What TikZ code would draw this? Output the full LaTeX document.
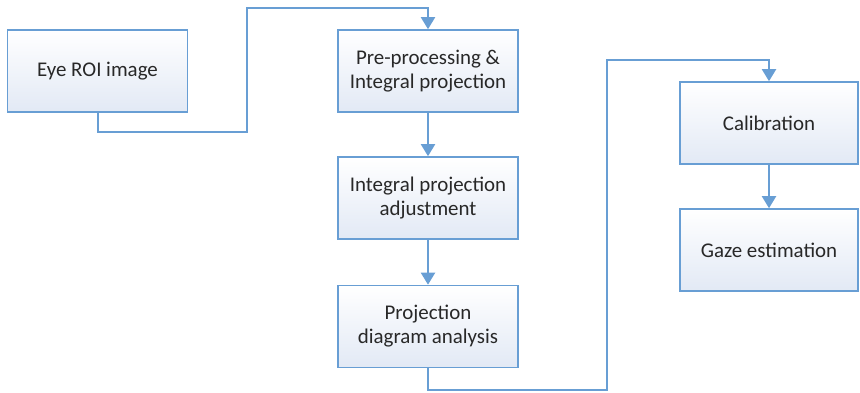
\documentclass[tikz,border=0pt]{standalone}
\usepackage{fontspec}
\setmainfont{Carlito}
\usetikzlibrary{arrows.meta,positioning}
\definecolor{ln}{RGB}{104,158,212}
\definecolor{bx}{RGB}{226,233,245}
\definecolor{tx}{RGB}{40,40,40}

\begin{document}
\begin{tikzpicture}[x=1bp,y=-1bp,
    blk/.style={rectangle,draw=ln,line width=1.6bp,minimum width=180bp,minimum height=82bp,inner sep=0pt,align=center,text=tx,font=\fontsize{21}{24}\selectfont,shading angle=135,top color=white,bottom color=bx},
    arr/.style={-{Triangle[length=12bp,width=14bp]},line width=2bp,ln},
]
\useasboundingbox (0,0) rectangle (860,392);

% Left column
\node[blk] (eye) at (97.5,71) {Eye ROI image};

% Middle column
\node[blk] (pre) at (428,71) {Pre-processing \&\\Integral projection};
\node[blk] (adj) at (428,198) {Integral projection\\adjustment};
\node[blk] (ana) at (428,326.5) {Projection\\diagram analysis};

% Right column
\node[blk,minimum width=178bp] (cal) at (769,123) {Calibration};
\node[blk,minimum width=178bp] (gaze) at (769,250) {Gaze estimation};

% Bends
\coordinate (b1) at (247,132);
\coordinate (b2) at (247,8);
\coordinate (b3) at (607,390);
\coordinate (b4) at (607,60);

% Connections
\draw[arr] (eye.south) |- (b1) -- (b2) -| (pre.north);
\draw[arr] (pre) -- (adj); \draw[arr] (adj) -- (ana);
\draw[arr] (ana.south) |- (b3) -- (b4) -| (cal.north);
\draw[arr] (cal) -- (gaze);
\end{tikzpicture}
\end{document}
